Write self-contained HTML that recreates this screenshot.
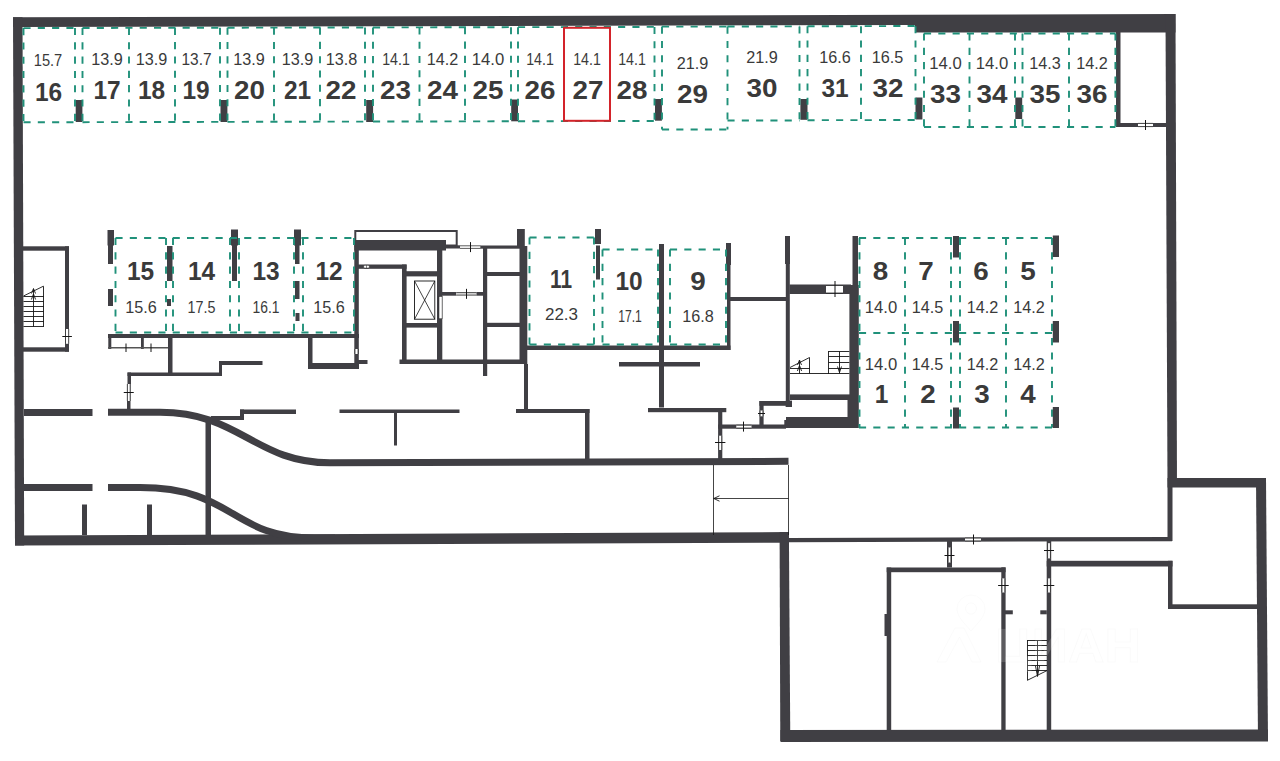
<!DOCTYPE html>
<html><head><meta charset="utf-8"><title>Parking plan</title>
<style>
html,body{margin:0;padding:0;background:#fff;}
body{width:1280px;height:761px;overflow:hidden;font-family:"Liberation Sans",sans-serif;}
svg{display:block;}
.d{stroke:#20917a;stroke-width:1.9;stroke-dasharray:7.1 7.2;fill:none;}
.n{font-family:"Liberation Sans",sans-serif;font-weight:bold;font-size:26px;fill:#3a3a3a;text-anchor:middle;}
.a{font-family:"Liberation Sans",sans-serif;font-size:15.6px;fill:#3a3a3a;text-anchor:middle;}
</style></head><body>
<svg width="1280" height="761" viewBox="0 0 1280 761">
<rect width="1280" height="761" fill="#fff"/>
<g id="walls">
<polygon points="13,17.3 915,14.8 915,25 13,27" fill="#403f44"/>
<polygon points="915,14.8 1175.5,14 1175.5,32.5 915,32.5" fill="#403f44"/>
<polygon points="13,17.3 22.5,17.3 24.2,545.6 15,545.6" fill="#403f44"/>
<polygon points="15,535.5 789,532.1 789,542.7 15,545.6" fill="#403f44"/>
<polygon points="1165.5,14 1175.5,14 1177,487 1167.5,487" fill="#403f44"/>
<polygon points="1167.5,478 1266,478 1266,487.5 1167.5,487.5" fill="#403f44"/>
<polygon points="1256,478 1266,478 1268,741 1258,741" fill="#403f44"/>
<polygon points="779.6,532.1 788.9,532.1 790.3,741 780.3,741" fill="#403f44"/>
<polygon points="780.5,730 1268,729.5 1268,741.5 780.5,742" fill="#403f44"/>
<rect x="1167.5" y="487" width="5.0" height="54" fill="#403f44"/>
<rect x="1116" y="32" width="4.5" height="95" fill="#403f44"/>
<rect x="1116" y="123" width="50" height="4" fill="#403f44"/>
<rect x="1138" y="123.4" width="15" height="3.2" fill="#fff"/>
<line x1="1138" y1="123.4" x2="1153" y2="123.4" stroke="#151515" stroke-width="0.7" />
<line x1="1138" y1="126.6" x2="1153" y2="126.6" stroke="#151515" stroke-width="0.7" />
<line x1="1145.5" y1="120" x2="1145.5" y2="130" stroke="#151515" stroke-width="1" />
</g>
<g id="pillars">
<rect x="75.7" y="100" width="6.7" height="22" fill="#403f44"/>
<rect x="220.5" y="100" width="6.9" height="22" fill="#403f44"/>
<rect x="366.2" y="100" width="6.9" height="22" fill="#403f44"/>
<rect x="511.2" y="99.5" width="6.8" height="21.8" fill="#403f44"/>
<rect x="655" y="99" width="6.9" height="21.7" fill="#403f44"/>
<rect x="800.4" y="99" width="7.1" height="20.8" fill="#403f44"/>
<rect x="915.5" y="97.5" width="6.9" height="22.0" fill="#403f44"/>
<rect x="1015.3" y="97.5" width="6.9" height="21.5" fill="#403f44"/>
</g>
<g id="stairL">
<rect x="23" y="246.3" width="46" height="4.4" fill="#403f44"/>
<rect x="65" y="246.3" width="4" height="105.4" fill="#403f44"/>
<rect x="23" y="347.3" width="46" height="4.4" fill="#403f44"/>
<rect x="65.5" y="329" width="3.2" height="14.8" fill="#fff"/>
<line x1="65.5" y1="329" x2="65.5" y2="343.8" stroke="#151515" stroke-width="0.7" />
<line x1="68.7" y1="329" x2="68.7" y2="343.8" stroke="#151515" stroke-width="0.7" />
<line x1="62.3" y1="336.5" x2="71.9" y2="336.5" stroke="#151515" stroke-width="1" />
<line x1="23.5" y1="296.5" x2="43.9" y2="296.5" stroke="#151515" stroke-width="0.9" />
<line x1="23.5" y1="301.5" x2="43.9" y2="301.5" stroke="#151515" stroke-width="0.9" />
<line x1="23.5" y1="306.5" x2="43.9" y2="306.5" stroke="#151515" stroke-width="0.9" />
<line x1="23.5" y1="311.5" x2="43.9" y2="311.5" stroke="#151515" stroke-width="0.9" />
<line x1="23.5" y1="316.5" x2="43.9" y2="316.5" stroke="#151515" stroke-width="0.9" />
<line x1="23.5" y1="321.5" x2="43.9" y2="321.5" stroke="#151515" stroke-width="0.9" />
<line x1="23.5" y1="326.5" x2="43.9" y2="326.5" stroke="#151515" stroke-width="0.9" />
<line x1="33.5" y1="289" x2="33.5" y2="326.8" stroke="#151515" stroke-width="0.9" />
<line x1="43.5" y1="286.2" x2="43.5" y2="326.8" stroke="#151515" stroke-width="0.9" />
<line x1="23.5" y1="296" x2="43.4" y2="286.2" stroke="#151515" stroke-width="0.9" />
<path d="M31.5 293.5 L33.5 288.5 L35.5 293.5 M31.4 299.5 L33.5 294 L35.6 299.5" fill="none" stroke="#151515" stroke-width="0.9" />
</g>
<g id="pillarsM">
<rect x="107.5" y="230" width="6.5" height="15.5" fill="#403f44"/>
<rect x="108" y="245" width="5" height="19" fill="#403f44"/>
<rect x="108" y="289" width="5" height="17" fill="#403f44"/>
<rect x="167" y="246" width="5.5" height="35" fill="#403f44"/>
<rect x="167" y="299" width="4" height="7" fill="#403f44"/>
<rect x="231" y="229.5" width="7" height="16.0" fill="#403f44"/>
<rect x="232" y="245" width="5" height="36" fill="#403f44"/>
<rect x="294" y="229.5" width="7" height="16.0" fill="#403f44"/>
<rect x="295" y="245" width="4.5" height="19" fill="#403f44"/>
<rect x="295" y="281" width="4.5" height="18" fill="#403f44"/>
<rect x="295.5" y="313" width="4.0" height="8" fill="#403f44"/>
</g>
<g id="wallsML">
<rect x="108" y="334" width="251" height="4" fill="#403f44"/>
<rect x="108.3" y="334" width="3.0" height="15" fill="#403f44"/>
<rect x="141" y="334" width="2.8" height="15" fill="#403f44"/>
<line x1="108" y1="347.7" x2="168" y2="347.7" stroke="#555" stroke-width="1.6" />
<line x1="126" y1="343.5" x2="126" y2="352" stroke="#151515" stroke-width="1" />
<line x1="151" y1="343.5" x2="151" y2="352" stroke="#151515" stroke-width="1" />
<rect x="168" y="338" width="4.5" height="36" fill="#403f44"/>
<rect x="127.5" y="372.5" width="94.5" height="3.5" fill="#403f44"/>
<rect x="127.5" y="372.5" width="3.5" height="11.5" fill="#403f44"/>
<rect x="219" y="361" width="3" height="15" fill="#403f44"/>
<rect x="219" y="361" width="43.5" height="4" fill="#403f44"/>
<rect x="308" y="338" width="4.5" height="30" fill="#403f44"/>
<rect x="308" y="363" width="51" height="6" fill="#403f44"/>
<rect x="354.3" y="246" width="4.5" height="123" fill="#403f44"/>
<rect x="358" y="360" width="9.5" height="4" fill="#403f44"/>
<rect x="355.0" y="349" width="3.0" height="5" fill="#fff"/>
<line x1="355.0" y1="349" x2="355.0" y2="354" stroke="#151515" stroke-width="0.7" />
<line x1="358.0" y1="349" x2="358.0" y2="354" stroke="#151515" stroke-width="0.7" />
<line x1="356.5" y1="351.5" x2="356.5" y2="351.5" stroke="#151515" stroke-width="1" />
</g>
<g id="core">
<rect x="355.3" y="231" width="101.4" height="14.5" fill="none" stroke="#403f44" stroke-width="2"/>
<rect x="354.3" y="240" width="91.7" height="10.5" fill="#403f44"/>
<rect x="446" y="245.3" width="14" height="3.2" fill="#403f44"/>
<rect x="480" y="245.5" width="40" height="3.2" fill="#403f44"/>
<rect x="460" y="245.8" width="20.3" height="2.6" fill="#fff"/>
<line x1="460" y1="245.8" x2="480.3" y2="245.8" stroke="#151515" stroke-width="0.7" />
<line x1="460" y1="248.4" x2="480.3" y2="248.4" stroke="#151515" stroke-width="0.7" />
<line x1="470.5" y1="242.1" x2="470.5" y2="252.1" stroke="#151515" stroke-width="1" />
<rect x="358" y="264.5" width="48.6" height="4.3" fill="#403f44"/>
<rect x="363.6" y="265.3" width="5.8" height="2.8" rx="1.2" fill="#fff" stroke="#151515" stroke-width="0.5"/>
<line x1="366.5" y1="265.3" x2="366.5" y2="268.1" stroke="#151515" stroke-width="0.5" />
<rect x="402" y="264.5" width="4.6" height="99.5" fill="#403f44"/>
<rect x="437" y="246" width="5.3" height="118" fill="#403f44"/>
<rect x="402" y="271.2" width="40" height="5.2" fill="#403f44"/>
<rect x="402" y="323" width="40" height="4.6" fill="#403f44"/>
<rect x="399.5" y="359.5" width="121.5" height="4.5" fill="#403f44"/>
<rect x="414.5" y="281" width="20.3" height="38.2" fill="none" stroke="#151515" stroke-width="0.9"/>
<line x1="414.5" y1="281" x2="434.8" y2="319.2" stroke="#151515" stroke-width="0.8" />
<line x1="434.8" y1="281" x2="414.5" y2="319.2" stroke="#151515" stroke-width="0.8" />
<rect x="439" y="296.4" width="3.1" height="22.4" fill="#fff" stroke="#151515" stroke-width="0.5"/>
<rect x="442" y="292" width="14.3" height="3.7" fill="#403f44"/>
<rect x="476.3" y="292" width="7.7" height="3.7" fill="#403f44"/>
<rect x="456.3" y="292.55" width="20.0" height="2.6" fill="#d8d8d8"/>
<line x1="456.3" y1="292.55" x2="476.3" y2="292.55" stroke="#151515" stroke-width="0.7" />
<line x1="456.3" y1="295.15" x2="476.3" y2="295.15" stroke="#151515" stroke-width="0.7" />
<line x1="466.5" y1="288.85" x2="466.5" y2="298.85" stroke="#151515" stroke-width="1" />
<rect x="483" y="246" width="4.2" height="130" fill="#403f44"/>
<rect x="487" y="272" width="33" height="4" fill="#403f44"/>
<rect x="487" y="322.8" width="33" height="4.2" fill="#403f44"/>
<rect x="517" y="229" width="7.8" height="17" fill="#403f44"/>
<rect x="519.5" y="246" width="7.8" height="118" fill="#403f44"/>
</g>
<g id="w11">
<rect x="595" y="229" width="6" height="15" fill="#403f44"/>
<rect x="596" y="245.5" width="4" height="34.0" fill="#403f44"/>
<rect x="527" y="345.5" width="203.5" height="4.5" fill="#403f44"/>
<rect x="659" y="244" width="5" height="163.5" fill="#403f44"/>
<rect x="619" y="362" width="81" height="4.5" fill="#403f44"/>
<rect x="726" y="243" width="5" height="22" fill="#403f44"/>
<rect x="727" y="265" width="3.5" height="85" fill="#403f44"/>
<rect x="730" y="297" width="56" height="4" fill="#403f44"/>
</g>
<g id="stairM">
<rect x="785" y="236" width="5" height="28" fill="#403f44"/>
<rect x="785.8" y="264" width="4.0" height="143" fill="#403f44"/>
<rect x="789.5" y="284.5" width="61.5" height="9.5" fill="#403f44"/>
<rect x="826" y="285.5" width="17" height="7.5" fill="#fff"/>
<line x1="826" y1="285.5" x2="843" y2="285.5" stroke="#151515" stroke-width="0.7" />
<line x1="826" y1="293" x2="843" y2="293" stroke="#151515" stroke-width="0.7" />
<line x1="835" y1="281" x2="835" y2="297" stroke="#151515" stroke-width="1" />
<rect x="852.5" y="236" width="5.5" height="49" fill="#403f44"/>
<rect x="849.4" y="285" width="9.4" height="143" fill="#403f44"/>
<rect x="790" y="394.4" width="60" height="5.6" fill="#403f44"/>
<rect x="785.8" y="400.6" width="6.2" height="6.4" fill="#403f44"/>
<rect x="847.5" y="400" width="2.5" height="17" fill="#403f44"/>
<polygon points="786,417 850,417 850,428 784.3,428 784.3,420 786,420" fill="#403f44"/>
<line x1="828.5" y1="351.5" x2="849.4" y2="351.5" stroke="#151515" stroke-width="0.9" />
<line x1="828.5" y1="356.5" x2="849.4" y2="356.5" stroke="#151515" stroke-width="0.9" />
<line x1="828.5" y1="362.5" x2="849.4" y2="362.5" stroke="#151515" stroke-width="0.9" />
<line x1="828.5" y1="368.5" x2="849.4" y2="368.5" stroke="#151515" stroke-width="0.9" />
<line x1="828.5" y1="351" x2="828.5" y2="374" stroke="#151515" stroke-width="0.9" />
<line x1="839.5" y1="351.5" x2="839.5" y2="373.5" stroke="#151515" stroke-width="0.9" />
<path d="M837.5 366.5 L839.5 372.5 L841.5 366.5" fill="none" stroke="#151515" stroke-width="0.9" />
<line x1="790" y1="373.5" x2="849.4" y2="373.5" stroke="#151515" stroke-width="0.9" />
<line x1="790" y1="368.5" x2="809.7" y2="368.5" stroke="#151515" stroke-width="0.9" />
<line x1="790" y1="367.5" x2="809.5" y2="357.5" stroke="#151515" stroke-width="0.9" />
<line x1="809.5" y1="357.5" x2="809.5" y2="373.5" stroke="#151515" stroke-width="0.9" />
<line x1="799.5" y1="360.5" x2="799.5" y2="373.5" stroke="#151515" stroke-width="0.9" />
<path d="M797.5 365 L799.5 360 L801.5 365 M797.4 371 L799.5 365.5 L801.6 371" fill="none" stroke="#151515" stroke-width="0.9" />
</g>
<g id="lowmid">
<rect x="339.5" y="409.5" width="120.0" height="3.5" fill="#403f44"/>
<rect x="394" y="413" width="3" height="32.5" fill="#403f44"/>
<rect x="516" y="409" width="73.5" height="4" fill="#403f44"/>
<rect x="585" y="409" width="4.5" height="50" fill="#403f44"/>
<rect x="524" y="364" width="4" height="45" fill="#403f44"/>
<rect x="648" y="408" width="78.3" height="4.2" fill="#403f44"/>
<rect x="718.1" y="412" width="4.2" height="47" fill="#403f44"/>
<rect x="718.7" y="435.7" width="3.0" height="14.3" fill="#fff"/>
<line x1="718.7" y1="435.7" x2="718.7" y2="450" stroke="#151515" stroke-width="0.7" />
<line x1="721.7" y1="435.7" x2="721.7" y2="450" stroke="#151515" stroke-width="0.7" />
<line x1="715.0" y1="442.5" x2="725.4" y2="442.5" stroke="#151515" stroke-width="1" />
<rect x="718.1" y="424.5" width="67.9" height="4.2" fill="#403f44"/>
<rect x="736.3" y="425.2" width="15.2" height="2.8" fill="#fff"/>
<line x1="736.3" y1="425.2" x2="751.5" y2="425.2" stroke="#151515" stroke-width="0.7" />
<line x1="736.3" y1="428.0" x2="751.5" y2="428.0" stroke="#151515" stroke-width="0.7" />
<line x1="743.5" y1="421.6" x2="743.5" y2="431.6" stroke="#151515" stroke-width="1" />
<rect x="759.4" y="401" width="4.2" height="24" fill="#403f44"/>
<rect x="759.4" y="401" width="32.1" height="4.8" fill="#403f44"/>
<rect x="760.1" y="410.5" width="2.8" height="5.8" fill="#fff"/>
<line x1="760.1" y1="410.5" x2="760.1" y2="416.3" stroke="#151515" stroke-width="0.7" />
<line x1="762.9" y1="410.5" x2="762.9" y2="416.3" stroke="#151515" stroke-width="0.7" />
<line x1="758.0" y1="413.5" x2="765.0" y2="413.5" stroke="#151515" stroke-width="1" />
</g>
<g id="ramp">
<rect x="24" y="409" width="68.5" height="7" fill="#403f44"/>
<rect x="24" y="484" width="68.5" height="7" fill="#403f44"/>
<rect x="127" y="384" width="3.5" height="25" fill="#403f44"/>
<rect x="127.35" y="384" width="2.8" height="17" fill="#fff"/>
<line x1="127.35" y1="384" x2="127.35" y2="401" stroke="#151515" stroke-width="0.7" />
<line x1="130.15" y1="384" x2="130.15" y2="401" stroke="#151515" stroke-width="0.7" />
<line x1="123.75" y1="392.5" x2="133.75" y2="392.5" stroke="#151515" stroke-width="1" />
<rect x="82" y="504.5" width="5" height="30.5" fill="#403f44"/>
<rect x="147" y="504.5" width="5" height="30.5" fill="#403f44"/>
<rect x="205.5" y="417.5" width="5.5" height="117.5" fill="#403f44"/>
<path d="M108 412.2 H160 C240 412.2 255 462.8 330 462.8 L788.5 461.3" fill="none" stroke="#403f44" stroke-width="7"/>
<path d="M108 487.6 H140 C235 487.6 230 538 315 538 H335" fill="none" stroke="#403f44" stroke-width="7"/>
<rect x="240" y="409.5" width="56" height="4.5" fill="#403f44"/>
<rect x="240" y="409.5" width="4" height="10.5" fill="#403f44"/>
<rect x="211" y="416" width="33" height="4" fill="#403f44"/>
<line x1="713.5" y1="465" x2="713.5" y2="535" stroke="#151515" stroke-width="0.8" />
<line x1="788.5" y1="465" x2="788.5" y2="535" stroke="#151515" stroke-width="0.8" />
<line x1="713.5" y1="498.5" x2="788.5" y2="498.5" stroke="#151515" stroke-width="0.8" />
<path d="M719.5 495.8 L713.8 498.5 L719.5 501.2" fill="none" stroke="#151515" stroke-width="0.9" />
</g>
<g id="lower">
<polygon points="788.5,538 1172,536.9 1172,541.2 788.5,542.2" fill="#403f44"/>
<rect x="965" y="538.1" width="16" height="2.8" fill="#fff"/>
<line x1="965" y1="538.1" x2="981" y2="538.1" stroke="#151515" stroke-width="0.7" />
<line x1="965" y1="540.9" x2="981" y2="540.9" stroke="#151515" stroke-width="0.7" />
<line x1="973.5" y1="534.5" x2="973.5" y2="544.5" stroke="#151515" stroke-width="1" />
<rect x="947" y="541" width="5" height="26.5" fill="#403f44"/>
<rect x="948.1" y="547.5" width="2.8" height="15.0" fill="#fff"/>
<line x1="948.1" y1="547.5" x2="948.1" y2="562.5" stroke="#151515" stroke-width="0.7" />
<line x1="950.9" y1="547.5" x2="950.9" y2="562.5" stroke="#151515" stroke-width="0.7" />
<line x1="944.5" y1="555.5" x2="954.5" y2="555.5" stroke="#151515" stroke-width="1" />
<rect x="886.7" y="567.5" width="118.9" height="4.7" fill="#403f44"/>
<rect x="886.7" y="567.5" width="4.5" height="163.5" fill="#403f44"/>
<rect x="884.5" y="614" width="5.5" height="22" fill="#403f44"/>
<rect x="1001.3" y="567.3" width="4.3" height="163.7" fill="#403f44"/>
<rect x="1002.0" y="578.4" width="2.8" height="14.1" fill="#fff"/>
<line x1="1002.0" y1="578.4" x2="1002.0" y2="592.5" stroke="#151515" stroke-width="0.7" />
<line x1="1004.8" y1="578.4" x2="1004.8" y2="592.5" stroke="#151515" stroke-width="0.7" />
<line x1="998.1" y1="585.5" x2="1008.7" y2="585.5" stroke="#151515" stroke-width="1" />
<rect x="1005" y="610.3" width="7.8" height="4.0" fill="#403f44"/>
<rect x="1046.7" y="541" width="4.5" height="190" fill="#403f44"/>
<rect x="1047.6" y="543.2" width="2.8" height="15.2" fill="#fff"/>
<line x1="1047.6" y1="543.2" x2="1047.6" y2="558.4" stroke="#151515" stroke-width="0.7" />
<line x1="1050.4" y1="543.2" x2="1050.4" y2="558.4" stroke="#151515" stroke-width="0.7" />
<line x1="1044" y1="550.5" x2="1054" y2="550.5" stroke="#151515" stroke-width="1" />
<rect x="1047.6" y="578.4" width="2.8" height="14.1" fill="#fff"/>
<line x1="1047.6" y1="578.4" x2="1047.6" y2="592.5" stroke="#151515" stroke-width="0.7" />
<line x1="1050.4" y1="578.4" x2="1050.4" y2="592.5" stroke="#151515" stroke-width="0.7" />
<line x1="1043.7" y1="585.5" x2="1054.3" y2="585.5" stroke="#151515" stroke-width="1" />
<rect x="1040.3" y="610.3" width="6.5" height="4.0" fill="#403f44"/>
<rect x="1046.7" y="560.8" width="125.8" height="5.7" fill="#403f44"/>
<rect x="1168" y="560.8" width="4.5" height="48.2" fill="#403f44"/>
<rect x="1168" y="604.3" width="90" height="4.7" fill="#403f44"/>
<line x1="1027.3" y1="640.5" x2="1047" y2="640.5" stroke="#151515" stroke-width="0.9" />
<line x1="1027.3" y1="645.5" x2="1047" y2="645.5" stroke="#151515" stroke-width="0.9" />
<line x1="1027.3" y1="650.5" x2="1047" y2="650.5" stroke="#151515" stroke-width="0.9" />
<line x1="1027.3" y1="655.5" x2="1047" y2="655.5" stroke="#151515" stroke-width="0.9" />
<line x1="1027.3" y1="660.5" x2="1047" y2="660.5" stroke="#151515" stroke-width="0.9" />
<line x1="1027.3" y1="665.5" x2="1047" y2="665.5" stroke="#151515" stroke-width="0.9" />
<line x1="1027.3" y1="670.5" x2="1047" y2="670.5" stroke="#151515" stroke-width="0.9" />
<line x1="1027.5" y1="640" x2="1027.5" y2="680.3" stroke="#151515" stroke-width="0.9" />
<line x1="1037.5" y1="640.6" x2="1037.5" y2="676" stroke="#151515" stroke-width="0.9" />
<line x1="1027.3" y1="680.3" x2="1047" y2="670.6" stroke="#151515" stroke-width="0.9" />
<path d="M1035.5 666 L1037.5 676.5 L1039.5 666" fill="none" stroke="#151515" stroke-width="0.9" />
</g>
<g id="dashes">
<line x1="23.5" y1="28.1" x2="75" y2="28.0" class="d"/>
<line x1="23.5" y1="122.3" x2="75" y2="122.19" class="d"/>
<line x1="82.5" y1="27.99" x2="220" y2="27.73" class="d"/>
<line x1="82.5" y1="122.18" x2="220" y2="121.89" class="d"/>
<line x1="227.5" y1="27.71" x2="365" y2="27.45" class="d"/>
<line x1="227.5" y1="121.87" x2="365" y2="121.58" class="d"/>
<line x1="373" y1="27.44" x2="511" y2="27.17" class="d"/>
<line x1="373" y1="121.57" x2="511" y2="121.28" class="d"/>
<line x1="518" y1="27.16" x2="654.5" y2="26.9" class="d"/>
<line x1="518" y1="121.26" x2="654.5" y2="120.97" class="d"/>
<line x1="23.5" y1="28.1" x2="23.5" y2="122.3" class="d"/>
<line x1="75" y1="28.0" x2="75" y2="122.19" class="d"/>
<line x1="82.5" y1="27.99" x2="82.5" y2="122.18" class="d"/>
<line x1="129" y1="27.9" x2="129" y2="122.08" class="d"/>
<line x1="175" y1="27.81" x2="175" y2="121.98" class="d"/>
<line x1="220" y1="27.73" x2="220" y2="121.89" class="d"/>
<line x1="227.5" y1="27.71" x2="227.5" y2="121.87" class="d"/>
<line x1="274" y1="27.62" x2="274" y2="121.77" class="d"/>
<line x1="320" y1="27.54" x2="320" y2="121.68" class="d"/>
<line x1="365" y1="27.45" x2="365" y2="121.58" class="d"/>
<line x1="373" y1="27.44" x2="373" y2="121.57" class="d"/>
<line x1="419.5" y1="27.35" x2="419.5" y2="121.47" class="d"/>
<line x1="465" y1="27.26" x2="465" y2="121.37" class="d"/>
<line x1="511" y1="27.17" x2="511" y2="121.28" class="d"/>
<line x1="518" y1="27.16" x2="518" y2="121.26" class="d"/>
<line x1="654.5" y1="26.9" x2="654.5" y2="120.97" class="d"/>
<line x1="662" y1="26.6" x2="727.5" y2="26.6" class="d"/>
<line x1="662" y1="129.5" x2="727.5" y2="129.5" class="d"/>
<line x1="662" y1="26.6" x2="662" y2="129.5" class="d"/>
<line x1="727.5" y1="26.6" x2="727.5" y2="129.5" class="d"/>
<line x1="727.5" y1="26.5" x2="799.5" y2="26.4" class="d"/>
<line x1="727.5" y1="120.5" x2="799.5" y2="120.5" class="d"/>
<line x1="799.5" y1="26.4" x2="799.5" y2="120.5" class="d"/>
<line x1="807.5" y1="26.3" x2="915.5" y2="26" class="d"/>
<line x1="807.5" y1="120.2" x2="915.5" y2="120" class="d"/>
<line x1="807.5" y1="26.2" x2="807.5" y2="120" class="d"/>
<line x1="861" y1="26.2" x2="861" y2="120" class="d"/>
<line x1="915.5" y1="26.2" x2="915.5" y2="120" class="d"/>
<line x1="924" y1="33.5" x2="1115.4" y2="33.5" class="d"/>
<line x1="924" y1="127" x2="1115.4" y2="127" class="d"/>
<line x1="924" y1="33.5" x2="924" y2="127" class="d"/>
<line x1="969.5" y1="33.5" x2="969.5" y2="127" class="d"/>
<line x1="1015" y1="33.5" x2="1015" y2="127" class="d"/>
<line x1="1022.5" y1="33.5" x2="1022.5" y2="127" class="d"/>
<line x1="1069" y1="33.5" x2="1069" y2="127" class="d"/>
<line x1="1115.4" y1="33.5" x2="1115.4" y2="127" class="d"/>
<line x1="115.5" y1="238" x2="354" y2="238" class="d"/>
<line x1="115.5" y1="332.5" x2="354" y2="332.5" class="d"/>
<line x1="115.5" y1="238" x2="115.5" y2="332.5" class="d"/>
<line x1="166" y1="238" x2="166" y2="332.5" class="d"/>
<line x1="173" y1="238" x2="173" y2="332.5" class="d"/>
<line x1="230" y1="238" x2="230" y2="332.5" class="d"/>
<line x1="239" y1="238" x2="239" y2="332.5" class="d"/>
<line x1="294" y1="238" x2="294" y2="332.5" class="d"/>
<line x1="303" y1="238" x2="303" y2="332.5" class="d"/>
<line x1="354" y1="238" x2="354" y2="332.5" class="d"/>
<line x1="529.5" y1="237.5" x2="594" y2="237.5" class="d"/>
<line x1="529.5" y1="344.5" x2="594" y2="344.5" class="d"/>
<line x1="529.5" y1="237.5" x2="529.5" y2="344.5" class="d"/>
<line x1="594" y1="237.5" x2="594" y2="344.5" class="d"/>
<line x1="602.5" y1="249.5" x2="658" y2="249.5" class="d"/>
<line x1="602.5" y1="344.5" x2="658" y2="344.5" class="d"/>
<line x1="602.5" y1="249.5" x2="602.5" y2="344.5" class="d"/>
<line x1="658" y1="249.5" x2="658" y2="344.5" class="d"/>
<line x1="670" y1="249.5" x2="726" y2="249.5" class="d"/>
<line x1="670" y1="344.5" x2="726" y2="344.5" class="d"/>
<line x1="670" y1="249.5" x2="670" y2="344.5" class="d"/>
<line x1="726" y1="249.5" x2="726" y2="344.5" class="d"/>
<line x1="859" y1="238" x2="1052" y2="238" class="d"/>
<line x1="859" y1="333" x2="1052" y2="333" class="d"/>
<line x1="859" y1="427.5" x2="1052" y2="427.5" class="d"/>
<line x1="859.5" y1="238" x2="859.5" y2="427.5" class="d"/>
<line x1="905" y1="238" x2="905" y2="427.5" class="d"/>
<line x1="951" y1="238" x2="951" y2="427.5" class="d"/>
<line x1="960" y1="238" x2="960" y2="427.5" class="d"/>
<line x1="1006" y1="238" x2="1006" y2="427.5" class="d"/>
<line x1="1052" y1="238" x2="1052" y2="427.5" class="d"/>
</g>
<rect x="564" y="27.8" width="46" height="93" fill="none" stroke="#d3232a" stroke-width="2"/>
<g id="pillarsR">
<rect x="953" y="236" width="6" height="21.5" fill="#403f44"/>
<rect x="953" y="321" width="6" height="21.5" fill="#403f44"/>
<rect x="953" y="407.5" width="6" height="21.0" fill="#403f44"/>
<rect x="1052.8" y="235.5" width="6.2" height="21.5" fill="#403f44"/>
<rect x="1052.8" y="321" width="6.2" height="21.5" fill="#403f44"/>
<rect x="1052.8" y="407" width="6.2" height="21" fill="#403f44"/>
</g>
<g id="wm" fill="#ffffff" fill-opacity="0.15" stroke="#9a9a9a" stroke-opacity="0.05" stroke-width="0.8">
<text x="995" y="662" font-family="Liberation Sans, sans-serif" font-weight="bold" font-size="49" textLength="146" lengthAdjust="spacingAndGlyphs">ЦИАН</text>
<path d="M971 595 a14 14 0 0 1 14 14 c0 8 -9 16 -14 22 c-5 -6 -14 -14 -14 -22 a14 14 0 0 1 14 -14 z M971 603 a5.5 5.5 0 1 0 0.01 0 z" fill-rule="evenodd"/>
<path d="M937 662 L955 628 L964 628 L981 662 L972 662 L959.5 637 L946 662 Z"/>
</g>
<g id="text">
<text transform="translate(48.5,100.5) scale(0.94,1)" class="n">16</text>
<text transform="translate(48,66.3) scale(0.94,1)" class="a">15.7</text>
<text transform="translate(107,98.5) scale(0.94,1)" class="n">17</text>
<text transform="translate(107,64.8) scale(1.04,1)" class="a">13.9</text>
<text transform="translate(151.5,98.5) scale(0.94,1)" class="n">18</text>
<text transform="translate(151.5,64.8) scale(1.04,1)" class="a">13.9</text>
<text transform="translate(196,98.5) scale(0.94,1)" class="n">19</text>
<text transform="translate(196.5,64.8) scale(0.99,1)" class="a">13.7</text>
<text transform="translate(249.5,98.5) scale(1.07,1)" class="n">20</text>
<text transform="translate(249,64.8) scale(1.04,1)" class="a">13.9</text>
<text transform="translate(297.5,98.5) scale(0.94,1)" class="n">21</text>
<text transform="translate(297.5,64.8) scale(1.04,1)" class="a">13.9</text>
<text transform="translate(341,98.5) scale(1.07,1)" class="n">22</text>
<text transform="translate(341.5,64.8) scale(1.04,1)" class="a">13.8</text>
<text transform="translate(395.5,98.5) scale(1.07,1)" class="n">23</text>
<text transform="translate(396,64.8) scale(0.91,1)" class="a">14.1</text>
<text transform="translate(442.5,98.5) scale(1.07,1)" class="n">24</text>
<text transform="translate(442.5,64.8) scale(1.04,1)" class="a">14.2</text>
<text transform="translate(488,98.5) scale(1.07,1)" class="n">25</text>
<text transform="translate(488,64.8) scale(1.07,1)" class="a">14.0</text>
<text transform="translate(540,98.5) scale(1.07,1)" class="n">26</text>
<text transform="translate(540,64.8) scale(0.91,1)" class="a">14.1</text>
<text transform="translate(588,98.5) scale(1.07,1)" class="n">27</text>
<text transform="translate(587,64.8) scale(0.91,1)" class="a">14.1</text>
<text transform="translate(632,98.5) scale(1.07,1)" class="n">28</text>
<text transform="translate(632,64.8) scale(0.91,1)" class="a">14.1</text>
<text transform="translate(692.5,103.0) scale(1.07,1)" class="n">29</text>
<text transform="translate(692.5,69.3) scale(1.04,1)" class="a">21.9</text>
<text transform="translate(762,97.0) scale(1.07,1)" class="n">30</text>
<text transform="translate(762,63.3) scale(1.04,1)" class="a">21.9</text>
<text transform="translate(835,97.0) scale(0.94,1)" class="n">31</text>
<text transform="translate(835,63.3) scale(1.04,1)" class="a">16.6</text>
<text transform="translate(888,97.0) scale(1.07,1)" class="n">32</text>
<text transform="translate(887.5,63.3) scale(1.04,1)" class="a">16.5</text>
<text transform="translate(945.5,103.0) scale(1.07,1)" class="n">33</text>
<text transform="translate(945.5,69.3) scale(1.07,1)" class="a">14.0</text>
<text transform="translate(992,103.0) scale(1.07,1)" class="n">34</text>
<text transform="translate(992,69.3) scale(1.07,1)" class="a">14.0</text>
<text transform="translate(1045,103.0) scale(1.07,1)" class="n">35</text>
<text transform="translate(1045,69.3) scale(1.04,1)" class="a">14.3</text>
<text transform="translate(1092,103.0) scale(1.07,1)" class="n">36</text>
<text transform="translate(1092,69.3) scale(1.04,1)" class="a">14.2</text>
<text transform="translate(140.5,280.0) scale(0.94,1)" class="n">15</text>
<text transform="translate(141,312.9) scale(1.04,1)" class="a">15.6</text>
<text transform="translate(201.5,280.0) scale(0.94,1)" class="n">14</text>
<text transform="translate(201.5,312.9) scale(0.92,1)" class="a">17.5</text>
<text transform="translate(266,280.0) scale(0.94,1)" class="n">13</text>
<text transform="translate(266,312.9) scale(0.89,1)" class="a">16.1</text>
<text transform="translate(329,280.0) scale(0.94,1)" class="n">12</text>
<text transform="translate(329,312.9) scale(1.04,1)" class="a">15.6</text>
<text transform="translate(561,287.5) scale(0.8,1)" class="n">11</text>
<text transform="translate(561.5,319.9) scale(1.09,1)" class="a">22.3</text>
<text transform="translate(629,289.5) scale(0.94,1)" class="n">10</text>
<text transform="translate(630,321.9) scale(0.78,1)" class="a">17.1</text>
<text transform="translate(698,289.5) scale(1.07,1)" class="n">9</text>
<text transform="translate(698,321.9) scale(1.04,1)" class="a">16.8</text>
<text transform="translate(880.5,280.0) scale(1.07,1)" class="n">8</text>
<text transform="translate(881,312.9) scale(1.07,1)" class="a">14.0</text>
<text transform="translate(926,280.0) scale(1.07,1)" class="n">7</text>
<text transform="translate(927.5,312.9) scale(1.04,1)" class="a">14.5</text>
<text transform="translate(981,280.0) scale(1.07,1)" class="n">6</text>
<text transform="translate(982.5,312.9) scale(1.04,1)" class="a">14.2</text>
<text transform="translate(1028,280.0) scale(1.07,1)" class="n">5</text>
<text transform="translate(1029,312.9) scale(1.04,1)" class="a">14.2</text>
<text transform="translate(881.5,403.0) scale(0.94,1)" class="n">1</text>
<text transform="translate(881,369.9) scale(1.07,1)" class="a">14.0</text>
<text transform="translate(928,403.0) scale(1.07,1)" class="n">2</text>
<text transform="translate(927.5,369.9) scale(1.04,1)" class="a">14.5</text>
<text transform="translate(982,403.0) scale(1.07,1)" class="n">3</text>
<text transform="translate(982.5,369.9) scale(1.04,1)" class="a">14.2</text>
<text transform="translate(1028,403.0) scale(1.07,1)" class="n">4</text>
<text transform="translate(1029,369.9) scale(1.04,1)" class="a">14.2</text>
</g>
</svg>
</body></html>
